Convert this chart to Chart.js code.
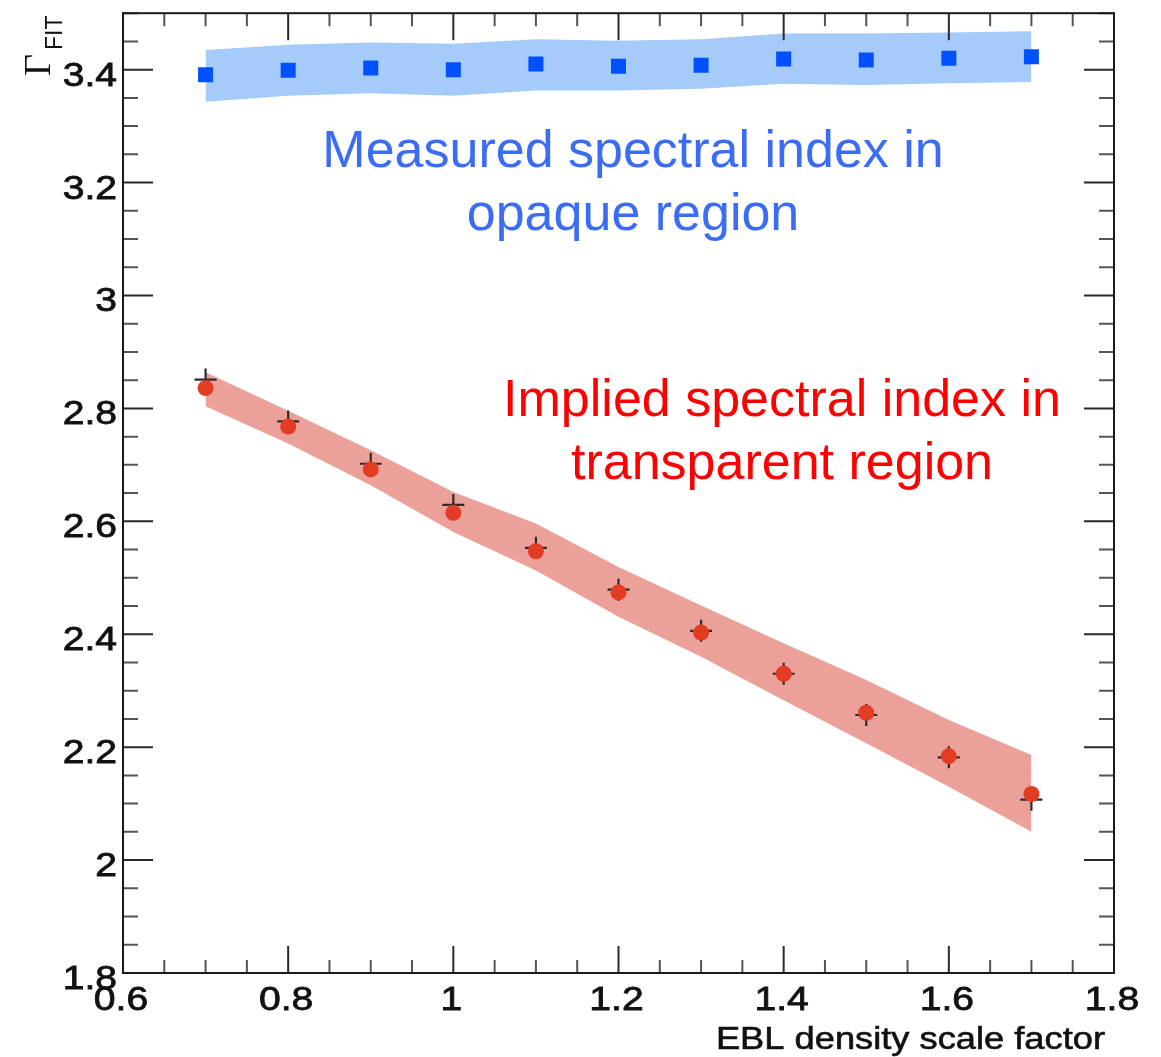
<!DOCTYPE html>
<html>
<head>
<meta charset="utf-8">
<script src="https://cdn.jsdelivr.net/npm/chart.js@4/dist/chart.umd.min.js"></script>
<style>
  html, body { margin: 0; padding: 0; background: #ffffff; }
  #wrap { width: 1161px; height: 1057px; }
</style>
</head>
<body>
<div id="wrap"><canvas id="c" width="1161" height="1057"></canvas></div>
<script>
// EBL density scale factors
const scaleFactors = [0.7, 0.8, 0.9, 1.0, 1.1, 1.2, 1.3, 1.4, 1.5, 1.6, 1.7];

// Measured spectral index in the opaque region, with its uncertainty band
const measuredIndex = [3.391, 3.399, 3.403, 3.400, 3.410, 3.406, 3.408, 3.419, 3.417, 3.420, 3.423];
const measuredUpper = [3.435, 3.444, 3.448, 3.446, 3.454, 3.451, 3.454, 3.464, 3.464, 3.466, 3.468];
const measuredLower = [3.343, 3.354, 3.358, 3.354, 3.363, 3.363, 3.366, 3.375, 3.373, 3.376, 3.378];

// Implied spectral index in the transparent region, with its band
const impliedIndex = [2.836, 2.768, 2.692, 2.615, 2.547, 2.474, 2.403, 2.330, 2.261, 2.184, 2.117];
const impliedUpper = [2.864, 2.796, 2.726, 2.652, 2.596, 2.519, 2.451, 2.384, 2.319, 2.248, 2.186];
const impliedLower = [2.804, 2.738, 2.664, 2.581, 2.513, 2.431, 2.360, 2.283, 2.207, 2.130, 2.050];

// Fitted index (cross markers)
const fitIndex = [2.851, 2.777, 2.702, 2.629, 2.553, 2.479, 2.406, 2.330, 2.257, 2.182, 2.107];

// Axis ticks
const xTickValues = [0.6, 0.8, 1.0, 1.2, 1.4, 1.6, 1.8];
const xTickLabels = ['0.6', '0.8', '1', '1.2', '1.4', '1.6', '1.8'];
const yTickValues = [1.8, 2.0, 2.2, 2.4, 2.6, 2.8, 3.0, 3.2, 3.4];
const yTickLabels = ['1.8', '2', '2.2', '2.4', '2.6', '2.8', '3', '3.2', '3.4'];
const minorDivisions = 4;

const xTitle = 'EBL density scale factor';
const measuredText = ['Measured spectral index in', 'opaque region'];
const impliedText = ['Implied spectral index in', 'transparent region'];

const pts = (ys) => scaleFactors.map((x, i) => ({ x: x, y: ys[i] }));

// draw text slightly widened and thickened, like the Helvetica axis font
function wideText(ctx, text, x, y, sx, align) {
  ctx.save();
  ctx.translate(x, y);
  ctx.scale(sx, 1);
  ctx.textAlign = align;
  ctx.fillText(text, 0, 0);
  ctx.strokeText(text, 0, 0);
  ctx.restore();
}

// Frame, inward ticks, labels and annotations drawn in ROOT style
const framePlugin = {
  id: 'rootFrame',
  afterDraw(chart) {
    const ctx = chart.ctx;
    const xs = chart.scales.x, ys = chart.scales.y;
    const a = chart.chartArea;
    ctx.save();

    // ticks
    ctx.lineCap = 'butt';
    const xStep = (xTickValues[1] - xTickValues[0]) / minorDivisions;
    for (let i = 0; i < xTickValues.length; i++) {
      for (let k = 0; k < minorDivisions; k++) {
        const v = xTickValues[i] + k * xStep;
        if (v > xs.max + 1e-9) continue;
        const px = xs.getPixelForValue(v);
        const major = k === 0;
        const len = major ? 27 : 13;
        ctx.strokeStyle = major ? '#2a2a2a' : '#555555';
        ctx.lineWidth = 2;
        ctx.beginPath();
        ctx.moveTo(px, a.bottom); ctx.lineTo(px, a.bottom - len);
        ctx.moveTo(px, a.top); ctx.lineTo(px, a.top + len);
        ctx.stroke();
      }
    }
    const yStep = (yTickValues[1] - yTickValues[0]) / minorDivisions;
    for (let i = 0; i < yTickValues.length + 1; i++) {
      for (let k = 0; k < minorDivisions; k++) {
        const v = yTickValues[0] + i * (yTickValues[1] - yTickValues[0]) + k * yStep;
        if (v > ys.max + 1e-9) continue;
        const py = ys.getPixelForValue(v);
        const major = k === 0;
        const len = major ? 30 : 15;
        ctx.strokeStyle = major ? '#2a2a2a' : '#555555';
        ctx.lineWidth = 2;
        ctx.beginPath();
        ctx.moveTo(a.left, py); ctx.lineTo(a.left + len, py);
        ctx.moveTo(a.right, py); ctx.lineTo(a.right - len, py);
        ctx.stroke();
      }
    }

    // frame
    ctx.strokeStyle = '#1a1a1a';
    ctx.lineWidth = 2;
    ctx.strokeRect(a.left, a.top, a.right - a.left, a.bottom - a.top);

    // tick labels
    ctx.fillStyle = '#111111';
    ctx.strokeStyle = '#111111';
    ctx.lineWidth = 0.8;
    ctx.font = '34px "Liberation Sans", Arial, sans-serif';
    ctx.textBaseline = 'alphabetic';
    xTickValues.forEach((v, i) => {
      wideText(ctx, xTickLabels[i], xs.getPixelForValue(v) - 2, a.bottom + 37, 1.15, 'center');
    });
    yTickValues.forEach((v, i) => {
      wideText(ctx, yTickLabels[i], a.left - 6, ys.getPixelForValue(v) + 16, 1.15, 'right');
    });

    // x axis title
    ctx.font = '31px "Liberation Sans", Arial, sans-serif';
    ctx.lineWidth = 0.6;
    wideText(ctx, xTitle, a.right - 9, 1049, 1.17, 'right');

    // y axis title: Gamma with FIT subscript, rotated
    ctx.save();
    ctx.translate(50, 76);
    ctx.rotate(-Math.PI / 2);
    ctx.textAlign = 'left';
    ctx.font = '38px "Liberation Serif", "DejaVu Serif", serif';
    ctx.fillText('\u0393', 0, 0);
    const gw = ctx.measureText('\u0393').width;
    ctx.font = '23px "Liberation Sans", Arial, sans-serif';
    ctx.fillText('FIT', gw + 4, 12);
    ctx.restore();

    // annotations
    ctx.textAlign = 'center';
    ctx.font = '52px "Liberation Sans", Arial, sans-serif';
    ctx.fillStyle = 'rgb(58,108,246)';
    let cx = xs.getPixelForValue(1.2176), by = ys.getPixelForValue(3.227);
    measuredText.forEach((t, i) => ctx.fillText(t, cx, by + i * 63));
    ctx.fillStyle = '#ff0000';
    cx = xs.getPixelForValue(1.398); by = ys.getPixelForValue(2.786);
    impliedText.forEach((t, i) => ctx.fillText(t, cx, by + i * 63));

    ctx.restore();
  }
};

new Chart(document.getElementById('c'), {
  type: 'line',
  data: {
    datasets: [
      { data: pts(measuredUpper), borderWidth: 0, pointRadius: 0, tension: 0,
        backgroundColor: 'rgb(164,203,250)', fill: '+1', order: 10 },
      { data: pts(measuredLower), borderWidth: 0, pointRadius: 0, tension: 0,
        fill: false, order: 11 },
      { data: pts(impliedUpper), borderWidth: 0, pointRadius: 0, tension: 0,
        backgroundColor: 'rgb(236,160,154)', fill: '+1', order: 12 },
      { data: pts(impliedLower), borderWidth: 0, pointRadius: 0, tension: 0,
        fill: false, order: 13 },
      { data: pts(fitIndex), showLine: false, pointStyle: 'cross', pointRadius: 11,
        borderColor: '#2b2b2b', pointBorderWidth: 2.2, backgroundColor: '#2b2b2b', order: 3 },
      { data: pts(impliedIndex), showLine: false, pointStyle: 'circle', pointRadius: 8,
        backgroundColor: 'rgb(226,60,35)', borderColor: 'rgb(226,60,35)', pointBorderWidth: 0, order: 2 },
      { data: pts(measuredIndex), showLine: false, pointStyle: 'rect', pointRadius: 10.6,
        backgroundColor: 'rgb(0,80,255)', borderColor: 'rgb(0,80,255)', pointBorderWidth: 0, order: 1 }
    ]
  },
  options: {
    responsive: false,
    animation: false,
    devicePixelRatio: 1,
    layout: { padding: { left: 123, top: 13, right: 47, bottom: 84 } },
    plugins: { legend: { display: false }, tooltip: { enabled: false } },
    elements: { line: { borderWidth: 0 } },
    scales: {
      x: { type: 'linear', min: 0.6, max: 1.8, display: false },
      y: { type: 'linear', min: 1.8, max: 3.5, display: false }
    }
  },
  plugins: [framePlugin]
});
</script>
</body>
</html>
